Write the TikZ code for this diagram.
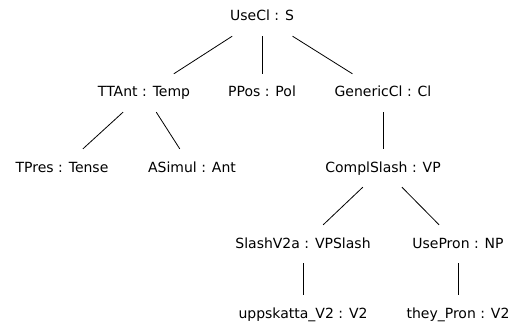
\documentclass[tikz,border=0pt]{standalone}
\usepackage{fontspec}
\setmainfont{DejaVu Sans}
\begin{document}
\begin{tikzpicture}[x=1pt, y=-1pt, font=\fontsize{14}{16}\selectfont,
		every node/.style={anchor=base, text height=11pt, text depth=3pt, inner xsep=4pt, inner ysep=12pt},
		branch/.style={line width=0.8pt}]
	\def\rowa{21}
	\def\rowb{97}
	\def\rowc{172}
	\def\rowd{248}
	\def\rowe{318}

	\useasboundingbox (0, 0) rectangle (516, 331) ;

	\node (usecl) at (262, \rowa) {UseCl : S} ;

	\node (ttant) at (144, \rowb) {TTAnt : Temp} ;
	\node (ppos) at (262, \rowb) {PPos : Pol} ;
	\node (generic) at (383, \rowb) {GenericCl : Cl} ;

	\node (tpres) at (62, \rowc) {TPres : Tense} ;
	\node (asimul) at (192, \rowc) {ASimul : Ant} ;
	\node (compl) at (383, \rowc) {ComplSlash : VP} ;

	\node (slash) at (303, \rowd) {SlashV2a : VPSlash} ;
	\node (usepron) at (458, \rowd) {UsePron : NP} ;

	\node (uppskatta) at (303, \rowe) {uppskatta\_V2 : V2} ;
	\node (they) at (458, \rowe) {they\_Pron : V2} ;

	\draw[branch] (usecl) -- (ttant) ;
	\draw[branch] (usecl) -- (ppos) ;
	\draw[branch] (usecl) -- (generic) ;
	\draw[branch] (ttant) -- (tpres) ;
	\draw[branch] (ttant) -- (asimul) ;
	\draw[branch] (generic) -- (compl) ;
	\draw[branch] (compl) -- (slash) ;
	\draw[branch] (compl) -- (usepron) ;
	\draw[branch] (slash) -- (uppskatta) ;
	\draw[branch] (usepron) -- (they) ;
\end{tikzpicture}
\end{document}
